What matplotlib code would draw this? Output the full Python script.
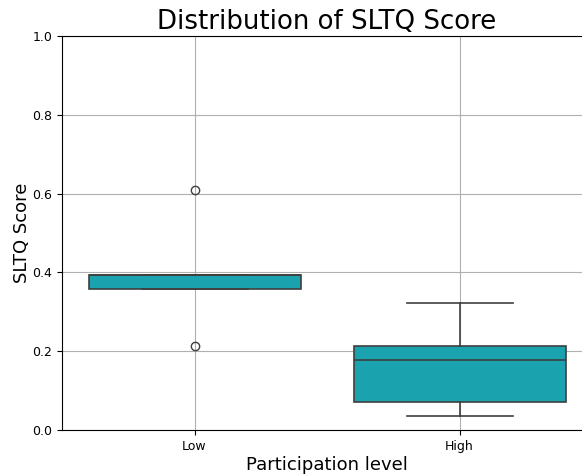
import matplotlib
matplotlib.use("Agg")
import matplotlib.pyplot as plt

# participation groups and their SLTQ score summaries
levels = ["Low", "High"]
q1 = [0.357, 0.070]
medians = [0.393, 0.178]
q3 = [0.393, 0.212]
whisker_low = [0.357, 0.035]
whisker_high = [0.393, 0.322]
outliers = [[0.609, 0.214], []]

BOX_COLOR = "#1aa2ae"
EDGE_COLOR = "#3f3f3f"

stats = []
for i, name in enumerate(levels):
    stats.append({
        "label": name,
        "q1": q1[i],
        "med": medians[i],
        "q3": q3[i],
        "whislo": whisker_low[i],
        "whishi": whisker_high[i],
        "fliers": outliers[i],
    })

fig = plt.figure(figsize=(5.82, 4.74), dpi=100)
ax = fig.add_axes([62 / 582, 44 / 474, 530 / 582, 394 / 474])

ax.bxp(
    stats,
    positions=range(len(levels)),
    widths=0.8,
    patch_artist=True,
    boxprops=dict(facecolor=BOX_COLOR, edgecolor=EDGE_COLOR, linewidth=1.2),
    medianprops=dict(color=EDGE_COLOR, linewidth=1.2),
    whiskerprops=dict(color=EDGE_COLOR, linewidth=1.2),
    capprops=dict(color=EDGE_COLOR, linewidth=1.2),
    flierprops=dict(marker="o", markerfacecolor="none",
                    markeredgecolor=EDGE_COLOR, markersize=6),
    capwidths=0.4,
)

ax.set_xlim(-0.5, 1.5)
ax.set_ylim(0, 1.0)
ax.set_xticks(range(len(levels)))
ax.set_xticklabels(levels)
ax.tick_params(labelsize=9)
ax.grid(True, color="#b0b0b0", linewidth=0.8)
ax.set_axisbelow(True)

ax.set_title("Distribution of SLTQ Score", fontsize=18.7, pad=5)
ax.set_xlabel("Participation level", fontsize=13, labelpad=2)
ax.set_ylabel("SLTQ Score", fontsize=13, labelpad=1)

fig.savefig("out.png", dpi=100)
